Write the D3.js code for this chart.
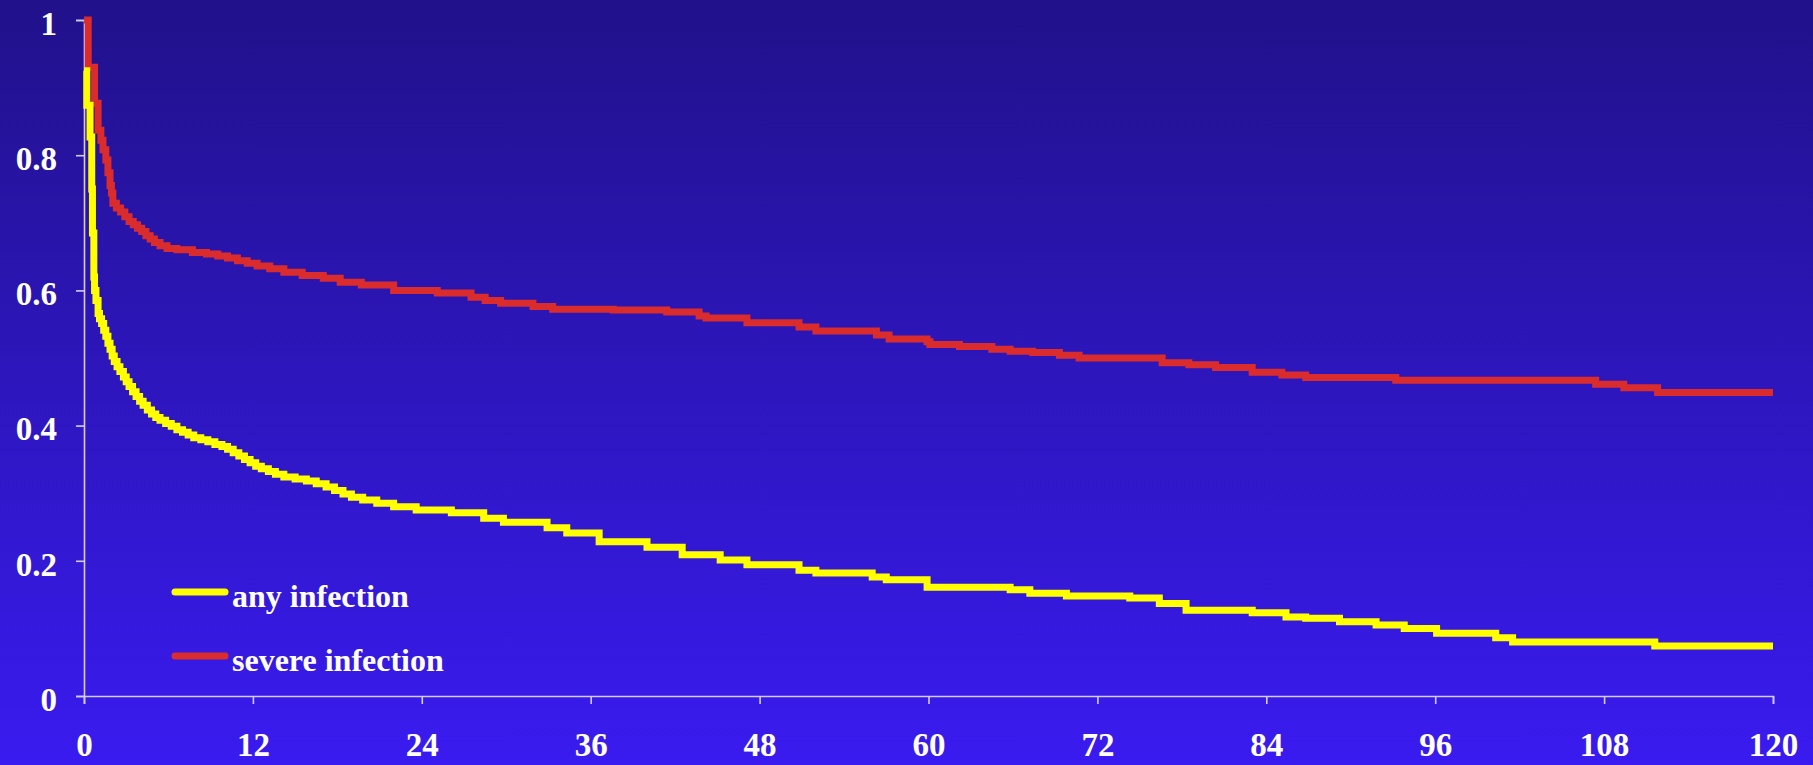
<!DOCTYPE html>
<html>
<head>
<meta charset="utf-8">
<script src="https://cdn.jsdelivr.net/npm/d3@7"></script>
<style>
  html, body { margin: 0; padding: 0; overflow: hidden; }
  body { width: 1813px; height: 765px; }
  svg { display: block; }
</style>
</head>
<body>
<svg id="chart" width="1813" height="765"></svg>
<script>
// ---- data ----
const xTicks = [0, 12, 24, 36, 48, 60, 72, 84, 96, 108, 120];
const yTicks = [0, 0.2, 0.4, 0.6, 0.8, 1];
const yTickLabels = ["0", "0.2", "0.4", "0.6", "0.8", "1"];
const seriesNames = ["any infection", "severe infection"];

// [month, survival free of infection]
const severeInfection = [
  [0,1],[0.3,0.93],[0.75,0.877],[1.0,0.837],[1.2,0.822],[1.35,0.808],[1.55,0.793],[1.7,0.774],[1.85,0.755],[1.95,0.744],
  [2.05,0.729],[2.3,0.722],[2.6,0.716],[2.9,0.709],[3.2,0.702],[3.5,0.697],[3.8,0.692],[4.1,0.687],[4.4,0.681],
  [4.7,0.676],[5.0,0.671],[5.4,0.666],[5.9,0.662],[6.6,0.660],[7.7,0.656],[8.7,0.654],[9.5,0.651],[10.2,0.648],
  [10.9,0.644],[11.6,0.640],[12.3,0.636],[13.2,0.632],[14.2,0.627],[15.5,0.622],[17.0,0.618],[18.2,0.612],
  [19.7,0.608],[22.0,0.600],[25.1,0.596],[27.5,0.590],[28.5,0.585],[29.6,0.581],
  [31.9,0.576],[33.3,0.572],[37.6,0.571],[41.4,0.568],[43.7,0.562],[44.2,0.559],[47.1,0.552],[50.8,0.546],
  [52.0,0.540],[56.3,0.534],[57.2,0.528],[59.9,0.524],[60.1,0.520],[62.2,0.517],[64.5,0.513],[65.8,0.510],
  [67.4,0.508],[69.3,0.504],[70.7,0.500],[76.6,0.493],[78.5,0.490],[80.4,0.486],[83.0,0.479],[85.1,0.475],
  [86.8,0.471],[93.2,0.467],[107.4,0.461],[109.4,0.456],[111.8,0.449],[120,0.449]
];
const anyInfection = [
  [0,0.925],[0.2,0.874],[0.43,0.827],[0.55,0.75],[0.6,0.685],[0.7,0.62],[0.75,0.600],[0.85,0.585],[1.0,0.566],
  [1.1,0.558],[1.25,0.551],[1.4,0.541],[1.55,0.532],[1.7,0.522],[1.85,0.513],[2.0,0.503],[2.15,0.495],[2.35,0.487],
  [2.55,0.480],[2.8,0.472],[3.0,0.465],[3.2,0.458],[3.45,0.450],[3.7,0.443],[3.95,0.436],[4.2,0.430],[4.5,0.423],
  [4.8,0.417],[5.1,0.412],[5.4,0.408],[5.8,0.403],[6.2,0.399],[6.6,0.394],[7.0,0.390],[7.4,0.386],[7.8,0.382],
  [8.3,0.379],[8.8,0.376],[9.3,0.372],[9.8,0.369],[10.2,0.365],[10.6,0.360],[11.0,0.355],[11.4,0.350],[11.8,0.345],
  [12.2,0.340],[12.6,0.336],[13.1,0.332],[13.6,0.328],[14.2,0.324],[15.0,0.321],[15.8,0.318],[16.5,0.314],
  [17.2,0.309],[17.8,0.304],[18.4,0.299],[19.0,0.294],[19.8,0.290],[20.8,0.285],[22.0,0.280],[23.6,0.275],
  [26.1,0.271],[28.4,0.263],[29.8,0.257],[32.9,0.249],[34.3,0.241],[36.6,0.228],
  [40.0,0.220],[42.5,0.209],[45.2,0.201],[47.1,0.194],[50.8,0.186],[52.0,0.182],[56.0,0.176],[57.0,0.172],
  [59.9,0.161],[65.8,0.157],[67.2,0.152],[69.8,0.148],[74.3,0.145],[76.4,0.137],[78.3,0.127],[83.0,0.123],
  [85.4,0.117],[86.8,0.115],[89.2,0.110],[91.8,0.105],[93.8,0.100],[96.1,0.093],[100.3,0.086],[101.5,0.080],
  [111.6,0.074],[120,0.074]
];

// ---- layout ----
const W = 1813, H = 765;
const plot = { left: 84, right: 1773, top: 20, bottom: 696 };
const FONT = "'Liberation Serif', 'Times New Roman', serif";
const axisColor = "#d4ccf6";
const colors = { any: "#ffff00", severe: "#da2c2c" };

const svg = d3.select("#chart");

// background gradient
const defs = svg.append("defs");
const grad = defs.append("linearGradient").attr("id", "bg").attr("x1", 0).attr("y1", 0).attr("x2", 0).attr("y2", 1);
grad.append("stop").attr("offset", "0%").attr("stop-color", "#21118a");
grad.append("stop").attr("offset", "100%").attr("stop-color", "#3a1bf0");
svg.append("rect").attr("width", W).attr("height", H).attr("fill", "url(#bg)");

const x = d3.scaleLinear().domain([0, 120]).range([plot.left, plot.right]);
const y = d3.scaleLinear().domain([0, 1]).range([plot.bottom, plot.top]);

// axes
const xAxis = d3.axisBottom(x).tickValues(xTicks).tickSize(8).tickSizeOuter(8).tickPadding(29).tickFormat(d3.format("d"));
const yAxis = d3.axisLeft(y).tickValues(yTicks).tickSize(8).tickSizeOuter(8).tickPadding(19)
  .tickFormat((d, i) => yTickLabels[i]);

const gx = svg.append("g").attr("transform", `translate(0,${plot.bottom})`).call(xAxis);
const gy = svg.append("g").attr("transform", `translate(${plot.left},0)`).call(yAxis);

[gx, gy].forEach(g => {
  g.select(".domain").attr("stroke", axisColor).attr("stroke-width", 1.6);
  g.selectAll(".tick line").attr("stroke", axisColor).attr("stroke-width", 1.6);
  g.selectAll(".tick text")
    .attr("fill", "#ffffff")
    .style("font-family", FONT)
    .style("font-weight", "bold")
    .style("font-size", "33px");
});
gy.selectAll(".tick text").attr("dy", "0.43em");
gx.selectAll(".tick text").attr("dy", "0.71em");

// curves
const line = d3.line()
  .x(d => x(d[0]))
  .y(d => y(d[1]))
  .curve(d3.curveStepAfter);

svg.append("path")
  .datum(severeInfection)
  .attr("d", line)
  .attr("fill", "none")
  .attr("stroke", colors.severe)
  .attr("stroke-width", 7);

svg.append("path")
  .datum(anyInfection)
  .attr("d", line)
  .attr("fill", "none")
  .attr("stroke", colors.any)
  .attr("stroke-width", 7);

// legend
const legend = [
  { name: seriesNames[0], color: colors.any, ly: 592, ty: 607 },
  { name: seriesNames[1], color: colors.severe, ly: 656, ty: 671 }
];
const lg = svg.append("g");
legend.forEach(l => {
  lg.append("line")
    .attr("x1", 175).attr("x2", 225)
    .attr("y1", l.ly).attr("y2", l.ly)
    .attr("stroke", l.color).attr("stroke-width", 7).attr("stroke-linecap", "round");
  lg.append("text")
    .attr("x", 232).attr("y", l.ty)
    .attr("fill", "#ffffff")
    .style("font-family", FONT)
    .style("font-weight", "bold")
    .style("font-size", "32px")
    .text(l.name);
});
</script>
</body>
</html>
